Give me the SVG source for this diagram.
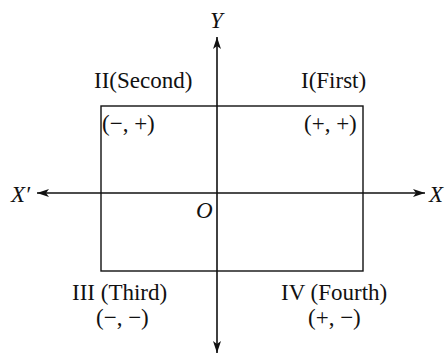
<svg xmlns="http://www.w3.org/2000/svg" width="445" height="354" viewBox="0 0 445 354">
<style>
text{font-family:"Liberation Serif","Times New Roman",serif;font-size:23px;fill:#111}
.it{font-style:italic}
.ax{stroke:#111;stroke-width:1.6;fill:none}
.box{stroke:#111;stroke-width:1.4;fill:none}
</style>
<defs>
<marker id="ah" viewBox="0 0 12 8" refX="12" refY="4" markerWidth="12" markerHeight="8" markerUnits="userSpaceOnUse" orient="auto">
<path d="M0,0 L12,4 L0,8 L3,4 Z" fill="#111"/>
</marker>
</defs>
<g id="quadrant-box"><rect class="box" x="101" y="106" width="262" height="165"/></g>
<g id="connectors">
<line class="ax" x1="217" y1="193" x2="217" y2="37" marker-end="url(#ah)"/>
<line class="ax" x1="217" y1="193" x2="217" y2="353" marker-end="url(#ah)"/>
<line class="ax" x1="217" y1="193" x2="425" y2="193" marker-end="url(#ah)"/>
<line class="ax" x1="217" y1="193" x2="37" y2="193" marker-end="url(#ah)"/>
</g>
<g id="label-Y"><text class="it" x="210" y="28">Y</text></g>
<g id="label-X"><text class="it" x="429" y="202">X</text></g>
<g id="label-Xp"><text class="it" x="11" y="202">X′</text></g>
<g id="label-O"><text class="it" x="196" y="218">O</text></g>
<g id="q2"><text x="94" y="88">II(Second)</text><text x="102" y="131">(−, +)</text></g>
<g id="q1"><text x="301" y="88">I(First)</text><text x="304" y="131">(+, +)</text></g>
<g id="q3"><text x="72" y="300">III (Third)</text><text x="96" y="325">(−, −)</text></g>
<g id="q4"><text x="281" y="300">IV (Fourth)</text><text x="308" y="325">(+, −)</text></g>
</svg>
